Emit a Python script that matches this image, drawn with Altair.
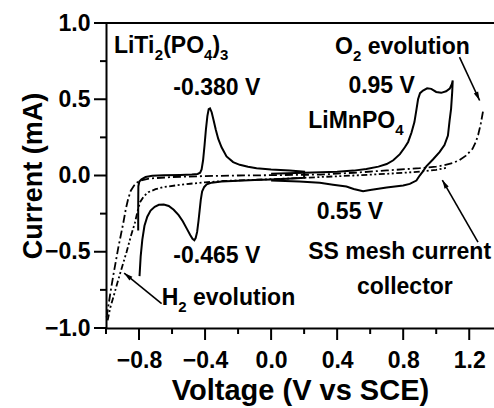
import math
import altair as alt
import pandas as pd

FONT = "Liberation Sans"

# ---- cyclic voltammograms, potential in V vs SCE, current in mA ----
# LiTi2(PO4)3: anodic sweep from -0.8 V, then cathodic return
liti_v = [-0.805, -0.805, -0.804, -0.798, -0.785, -0.76, -0.72, -0.65, -0.55, -0.48,
          -0.445, -0.43, -0.421, -0.412, -0.403, -0.395, -0.386, -0.378, -0.370, -0.360,
          -0.348, -0.335, -0.32, -0.30, -0.27, -0.23, -0.19, -0.14, -0.088, 0.0,
          0.113, 0.2, 0.2, 0.1, 0.0, -0.1, -0.2, -0.3, -0.36, -0.39,
          -0.405, -0.418, -0.426, -0.433, -0.44, -0.448, -0.457, -0.465, -0.476, -0.49,
          -0.51, -0.535, -0.56, -0.59, -0.62, -0.65, -0.68, -0.705, -0.73, -0.75,
          -0.767, -0.78, -0.79, -0.797]
liti_i = [-0.36, -0.2, -0.07, -0.04, -0.025, -0.01, -0.002, 0.002, 0.004, 0.006,
          0.01, 0.018, 0.04, 0.1, 0.2, 0.3, 0.39, 0.435, 0.44, 0.415,
          0.36, 0.30, 0.24, 0.185, 0.125, 0.088, 0.07, 0.058, 0.048, 0.04,
          0.033, 0.025, -0.015, -0.022, -0.027, -0.03, -0.034, -0.04, -0.047, -0.058,
          -0.075, -0.105, -0.16, -0.23, -0.3, -0.37, -0.41, -0.425, -0.415, -0.39,
          -0.35, -0.3, -0.26, -0.225, -0.2, -0.19, -0.192, -0.205, -0.23, -0.27,
          -0.33, -0.42, -0.53, -0.66]

# LiMnPO4: anodic sweep from 0 V to 1.1 V and back
limn_v = [0.0, 0.1, 0.2, 0.3, 0.4, 0.5, 0.577, 0.65, 0.7, 0.74,
          0.78, 0.81, 0.83, 0.85, 0.868, 0.88, 0.89, 0.902, 0.92, 0.945,
          0.97, 1.0, 1.03, 1.06, 1.082, 1.095, 1.1, 1.097, 1.09, 1.081,
          1.071, 1.05, 1.02, 0.98, 0.94, 0.915, 0.9, 0.88, 0.84, 0.8,
          0.7, 0.6, 0.557, 0.5, 0.456, 0.375, 0.295, 0.17, 0.0]
limn_i = [0.012, 0.015, 0.018, 0.021, 0.024, 0.032, 0.042, 0.058, 0.075, 0.1,
          0.14, 0.185, 0.22, 0.28, 0.35, 0.43, 0.5, 0.54, 0.557, 0.572,
          0.568, 0.548, 0.542, 0.552, 0.57, 0.6, 0.623, 0.55, 0.437, 0.36,
          0.262, 0.2, 0.153, 0.105, 0.06, 0.02, 0.0, -0.033, -0.055, -0.066,
          -0.078, -0.095, -0.103, -0.088, -0.072, -0.06, -0.048, -0.04, -0.033]

# bare stainless-steel mesh current collector, two traces
ss_a_v = [-0.996, -0.985, -0.972, -0.956, -0.94, -0.925, -0.91, -0.895, -0.88, -0.865,
          -0.85, -0.83, -0.81, -0.78, -0.74, -0.6, -0.4, -0.2, 0.0, 0.3,
          0.5, 0.7, 0.9, 1.0, 1.04, 1.1, 1.14, 1.18, 1.22, 1.24,
          1.255, 1.27, 1.285]
ss_a_i = [-0.93, -0.85, -0.76, -0.656, -0.56, -0.47, -0.39, -0.31, -0.22, -0.15,
          -0.1, -0.066, -0.045, -0.03, -0.02, -0.01, -0.004, 0.0, 0.002, 0.006,
          0.018, 0.033, 0.048, 0.058, 0.066, 0.082, 0.1, 0.13, 0.175, 0.22,
          0.27, 0.34, 0.43]
ss_b_v = [-0.99, -0.975, -0.956, -0.93, -0.9, -0.875, -0.85, -0.825, -0.81, -0.794,
          -0.77, -0.744, -0.7, -0.653, -0.57, -0.49, -0.4, -0.29, -0.1, 0.1,
          0.3, 0.5, 0.7, 0.9, 1.0, 1.06]
ss_b_i = [-0.95, -0.87, -0.8, -0.7, -0.59, -0.5, -0.4, -0.31, -0.24, -0.175,
          -0.135, -0.11, -0.09, -0.076, -0.064, -0.054, -0.045, -0.036, -0.028, -0.02,
          -0.01, 0.0, 0.011, 0.025, 0.037, 0.05]

# ---- axes ----
x_major = [-0.8, -0.4, 0.0, 0.4, 0.8, 1.2]
x_minor = [-1.0, -0.6, -0.2, 0.2, 0.6, 1.0]
y_major = [-1.0, -0.5, 0.0, 0.5, 1.0]
y_minor = [-0.75, -0.25, 0.25, 0.75]

W, H = 388, 305
X_DOMAIN = [-1.0, 1.35]
Y_DOMAIN = [-1.0, 1.0]
SX = W / (X_DOMAIN[1] - X_DOMAIN[0])   # px per V
SY = H / (Y_DOMAIN[1] - Y_DOMAIN[0])   # px per mA

MAJOR_TICK = 12
MINOR_TICK = 6

MAIN_FS = 23
SUB_FS = 15
SUB_DROP = 7  # px below the main baseline

# ---- annotation layout (label anchors in data units, left edge / baseline) ----
plain_labels = [
    ("-0.380 V", -0.592, 0.525),
    ("-0.465 V", -0.592, -0.575),
    ("0.95 V", 0.468, 0.54),
    ("0.55 V", 0.276, -0.284),
    ("SS mesh current", 0.225, -0.55),
    ("collector", 0.52, -0.78),
]
formula_labels = [
    ([("LiTi", 0), ("2", 1), ("(PO", 0), ("4", 1), (")", 0), ("3", 1)], -0.952, 0.805),
    ([("LiMnPO", 0), ("4", 1)], 0.225, 0.31),
    ([("H", 0), ("2", 1), (" evolution", 0)], -0.663, -0.852),
    ([("O", 0), ("2", 1), (" evolution", 0)], 0.387, 0.80),
]

# arrows: (tail V, tail I, head V, head I)
arrows = [
    (1.141, 0.776, 1.263, 0.492),    # O2 evolution
    (1.253, -0.437, 1.037, -0.03),   # SS mesh current collector
    (-0.663, -0.84, -0.89, -0.64),   # H2 evolution
]

# Liberation Sans Bold advance widths (per 1000 em)
ADV = {"L": 611, "i": 278, "T": 611, "(": 333, "P": 667, "O": 778, ")": 333,
       "M": 833, "n": 611, "H": 722, " ": 278, "e": 556, "v": 556, "o": 611,
       "l": 278, "u": 611, "t": 333}


def text_width(s, fs):
    return sum(ADV.get(c, 556) for c in s) * fs / 1000.0


text_rows = []
for txt, v, i in plain_labels:
    text_rows.append({"t": txt, "V": v, "I": i, "fs": MAIN_FS})
for parts, v0, i0 in formula_labels:
    cursor = 0.0
    for txt, sub in parts:
        fs = SUB_FS if sub else MAIN_FS
        if txt.startswith(" "):
            cursor += text_width(" ", fs)
            txt = txt.lstrip(" ")
        text_rows.append({"t": txt, "V": v0 + cursor / SX,
                          "I": i0 - (SUB_DROP / SY if sub else 0.0), "fs": fs})
        cursor += text_width(txt, fs)
text_df = pd.DataFrame(text_rows)

arrow_df = pd.DataFrame(arrows, columns=["V", "I", "V2", "I2"])
arrow_df["ang"] = [
    math.degrees(math.atan2((hv - tv) * SX, (hi - ti) * SY)) % 360
    for tv, ti, hv, hi in arrows
]


def frame(name, vs, cs):
    return pd.DataFrame({"V": vs, "I": cs, "curve": name, "idx": range(len(vs))})


def x_tick_frame(values, length_px):
    # vertical tick segments hanging below the bottom of the y domain
    return pd.DataFrame({"V": values,
                         "I": [Y_DOMAIN[0]] * len(values),
                         "I2": [Y_DOMAIN[0] - length_px / SY] * len(values)})


solid_df = pd.concat([frame("LiTi2(PO4)3", liti_v, liti_i),
                      frame("LiMnPO4", limn_v, limn_i)], ignore_index=True)
ss_a_df = frame("SS mesh a", ss_a_v, ss_a_i)
ss_b_df = frame("SS mesh b", ss_b_v, ss_b_i)

xscale = alt.Scale(domain=X_DOMAIN, nice=False, zero=False)
yscale = alt.Scale(domain=Y_DOMAIN, nice=False, zero=False)

axis_common = dict(
    domainColor="black", domainWidth=2, ticks=False, grid=False,
    labelFont=FONT, labelFontWeight="bold", labelColor="black",
    labelFontSize=23, labelFlush=False, labelOverlap=False,
    titleFont=FONT, titleFontWeight="bold", titleColor="black",
)
X_AXIS = alt.Axis(
    values=x_major, format=".1f", orient="bottom", labelPadding=MAJOR_TICK + 9,
    title="Voltage (V vs SCE)", titleFontSize=29, titlePadding=4, **axis_common)
Y_AXIS = alt.Axis(
    values=y_major, format=".1f", orient="left", labelPadding=MAJOR_TICK + 4,
    title="Current (mA)", titleFontSize=27, titlePadding=-3, **axis_common)


def xenc(field):
    return alt.X(f"{field}:Q", scale=xscale, axis=X_AXIS, title="Voltage (V vs SCE)")


def yenc(field):
    return alt.Y(f"{field}:Q", scale=yscale, axis=Y_AXIS, title="Current (mA)")


solid = alt.Chart(solid_df).mark_line(color="black", strokeWidth=2).encode(
    x=xenc("V"), y=yenc("I"), detail="curve:N", order="idx:Q")

ss_a = alt.Chart(ss_a_df).mark_line(
    color="black", strokeWidth=1.8, strokeDash=[8, 3, 2, 3]).encode(
    x=xenc("V"), y=yenc("I"), order="idx:Q")

ss_b = alt.Chart(ss_b_df).mark_line(
    color="black", strokeWidth=1.8, strokeDash=[6, 2.5, 2, 2.5, 2, 2.5]).encode(
    x=xenc("V"), y=yenc("I"), order="idx:Q")

# tick marks, drawn outward from the axis lines
xt_major = alt.Chart(x_tick_frame(x_major, MAJOR_TICK)).mark_rule(
    color="black", strokeWidth=2, clip=False).encode(
    x=xenc("V"), y=yenc("I"), y2="I2:Q")
xt_minor = alt.Chart(x_tick_frame(x_minor, MINOR_TICK)).mark_rule(
    color="black", strokeWidth=2, clip=False).encode(
    x=xenc("V"), y=yenc("I"), y2="I2:Q")
yt_major = alt.Chart(pd.DataFrame({"I": y_major})).mark_rule(
    color="black", strokeWidth=2).encode(
    y=yenc("I"), x=alt.value(0), x2=alt.value(-MAJOR_TICK))
yt_minor = alt.Chart(pd.DataFrame({"I": y_minor})).mark_rule(
    color="black", strokeWidth=2).encode(
    y=yenc("I"), x=alt.value(0), x2=alt.value(-MINOR_TICK))

top_frame = alt.Chart(pd.DataFrame({"I": [1.0]})).mark_rule(
    color="black", strokeWidth=2).encode(y=yenc("I"))

arrow_lines = alt.Chart(arrow_df).mark_rule(color="black", strokeWidth=1.6).encode(
    x=xenc("V"), y=yenc("I"), x2="V2:Q", y2="I2:Q")

arrow_heads = alt.Chart(arrow_df).mark_point(
    shape="M0,0L-0.3,1.1L0.3,1.1Z", filled=True, color="black", opacity=1,
    size=250).encode(
    x=xenc("V2"), y=yenc("I2"),
    angle=alt.Angle("ang:Q", scale=None))

labels = alt.Chart(text_df).mark_text(
    align="left", baseline="alphabetic", font=FONT, fontWeight="bold",
    color="black").encode(
    x=xenc("V"), y=yenc("I"), text="t:N", size=alt.Size("fs:Q", scale=None))

chart = alt.layer(
    solid, ss_a, ss_b, xt_major, xt_minor, yt_major, yt_minor,
    top_frame, arrow_lines, arrow_heads, labels
).properties(
    width=W, height=H,
    autosize=alt.AutoSizeParams(type="none"),
    padding={"left": 106, "top": 23, "right": 0, "bottom": 80},
    background="white",
).configure_view(stroke=None)

chart.save("out.html", embed_options={"renderer": "svg", "actions": False})
